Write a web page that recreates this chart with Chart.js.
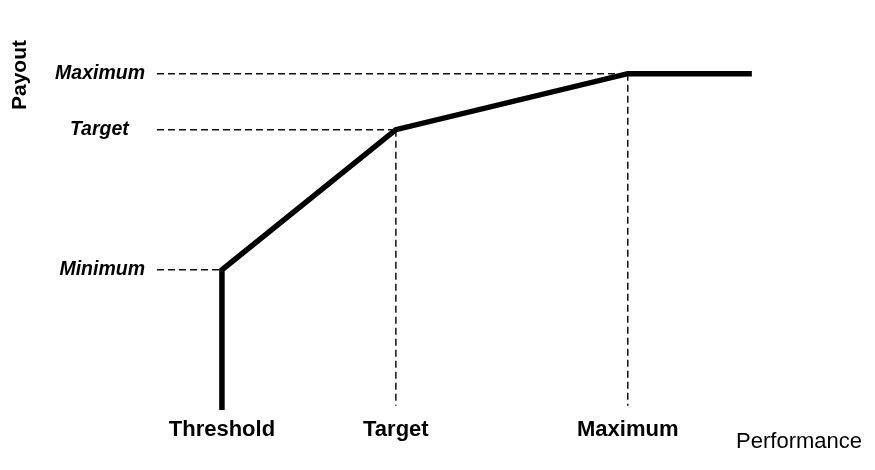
<!DOCTYPE html>
<html>
<head>
<meta charset="utf-8">
<script src="https://cdn.jsdelivr.net/npm/chart.js@4.4.0/dist/chart.umd.min.js"></script>
<style>
  body { margin: 0; background: #fff; }
  .chartContainer { width: 875px; height: 470px; }
</style>
</head>
<body>
<div class="chartContainer">
  <canvas id="myChart"></canvas>
</div>
<script>
// performance levels (x) and payout levels (y)
const perfLabels = ["Threshold", "Target", "Maximum"];
const perfValues = [85, 100, 120];
const payoutLabels = ["Minimum", "Target   ", "Maximum"]; // trailing spaces: Target sits a bit further left
const payoutValues = [50, 100, 120];
const perfEnd = 130.7;      // where the flat cap stops
const payoutFloor = 0;      // bottom of the threshold drop
const guideBottom = 1.5;    // vertical dashed guides stop just above the floor

const xMin = 79.4, xMax = 140.2;
const yMin = 0, yMax = 132;

const fontFamily = "'Liberation Sans', Arial, sans-serif";

// payout curve
const curve = [
    { x: perfValues[0], y: payoutFloor },
    { x: perfValues[0], y: payoutValues[0] },
    { x: perfValues[1], y: payoutValues[1] },
    { x: perfValues[2], y: payoutValues[2] },
    { x: perfEnd, y: payoutValues[2] },
];

function guide(points) {
    return {
        data: points,
        borderColor: "#111",
        borderWidth: 1.5,
        borderDash: [7, 4],
        pointRadius: 0,
        fill: false,
        clip: false,
    };
}

const datasets = [
    {
        data: curve,
        borderColor: "#000",
        borderWidth: 5.5,
        pointRadius: 0,
        fill: false,
        clip: false,
        borderJoinStyle: "miter",
    },
];

// horizontal dashed guides from the axis to each level
payoutValues.forEach((v, i) => {
    datasets.push(guide([{ x: xMin, y: v }, { x: perfValues[i], y: v }]));
});
// vertical dashed guides down from target and maximum
for (let i = 1; i < perfValues.length; i++) {
    datasets.push(guide([{ x: perfValues[i], y: payoutValues[i] }, { x: perfValues[i], y: guideBottom }]));
}

var ctx = document.getElementById("myChart").getContext("2d");

new Chart(ctx, {
    type: "line",
    data: { datasets: datasets },
    options: {
        responsive: true,
        maintainAspectRatio: false,
        animation: false,
        layout: { padding: { top: 40, right: 13, bottom: 0, left: 0 } },
        plugins: {
            legend: { display: false },
            tooltip: { enabled: false },
        },
        scales: {
            x: {
                type: "linear",
                min: xMin,
                max: xMax,
                grid: { display: false, drawTicks: false },
                border: { display: false },
                afterFit: (scale) => { scale.height = 60; },
                afterBuildTicks: (scale) => {
                    scale.ticks = perfValues.map((v) => ({ value: v }));
                },
                ticks: {
                    maxRotation: 0,
                    autoSkip: false,
                    padding: 7,
                    color: "#000",
                    font: { family: fontFamily, size: 22, weight: "bold" },
                    callback: (value) => perfLabels[perfValues.indexOf(value)],
                },
                title: {
                    display: true,
                    text: "Performance",
                    align: "end",
                    color: "#000",
                    padding: { top: 0, bottom: 15 },
                    font: { family: fontFamily, size: 22 },
                },
            },
            y: {
                type: "linear",
                min: yMin,
                max: yMax,
                grid: { display: false, drawTicks: false },
                border: { display: false },
                afterFit: (scale) => { scale.width = 157; },
                afterBuildTicks: (scale) => {
                    scale.ticks = payoutValues.map((v) => ({ value: v }));
                },
                ticks: {
                    padding: 12,
                    color: "#000",
                    font: { family: fontFamily, size: 19.5, style: "italic", weight: "bold" },
                    callback: (value) => payoutLabels[payoutValues.indexOf(value)],
                },
                title: {
                    display: true,
                    text: "Payout",
                    align: "end",
                    color: "#000",
                    padding: { top: 8, bottom: 0 },
                    font: { family: fontFamily, size: 21, weight: "bold" },
                },
            },
        },
    },
});
</script>
</body>
</html>
